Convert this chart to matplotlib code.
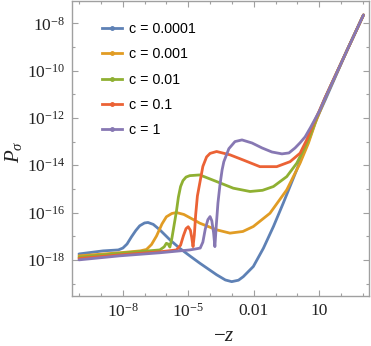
import matplotlib
matplotlib.use('Agg')
import matplotlib.pyplot as plt
from matplotlib.lines import Line2D
import numpy as np

plt.rcParams['mathtext.fontset'] = 'custom'
plt.rcParams['mathtext.rm'] = 'Liberation Serif'
plt.rcParams['mathtext.it'] = 'Liberation Serif:italic'

# data, as log10(-z) and log10(P_sigma)
labels = ['c = 0.0001', 'c = 0.001', 'c = 0.01', 'c = 0.1', 'c = 1']
colors = ['#5E81B5', '#E19C24', '#8FB032', '#EB6235', '#8778B3']

# shared straight tail at large -z
tail_x = [2.26, 3.02]
tail_y = [-9.16, -7.65]

blue_x = [-10.0, -8.9, -8.2, -7.99, -7.8, -7.6, -7.4, -7.22, -7.0, -6.84, -6.6, -6.3, -5.84, -5.39, -4.9,
          -4.47, -3.7, -3.3, -3.01, -2.7, -2.48, -2.02, -1.56, -1.1, -0.65, -0.19, 0.27, 0.58, 0.89, 1.27]
blue_y = [-17.75, -17.62, -17.58, -17.5, -17.33, -17.03, -16.76, -16.56, -16.44, -16.42, -16.5, -16.73,
          -17.15, -17.51, -17.85, -18.14, -18.63, -18.85, -18.92, -18.86, -18.71, -18.28, -17.51, -16.59,
          -15.6, -14.55, -13.49, -12.79, -12.01, -11.24]

orange_x = [-10.0, -8.14, -7.2, -6.91, -6.68, -6.45, -6.2, -6.0, -5.75, -5.54, -5.2, -4.8, -4.47, -3.7,
            -3.09, -2.5, -2.02, -1.26, -0.49, 0.12, 0.5, 0.8, 1.27]
orange_y = [-17.83, -17.7, -17.62, -17.56, -17.35, -16.99, -16.48, -16.18, -16.04, -16.0, -16.08, -16.28,
            -16.45, -16.73, -16.87, -16.8, -16.59, -16.03, -15.04, -13.91, -13.07, -12.25, -11.16]

green_x = [-10.0, -8.14, -6.3, -6.1, -6.0, -5.92, -5.84, -5.75, -5.65, -5.54, -5.45, -5.35, -5.24, -5.1,
           -4.93, -4.47, -3.7, -2.94, -2.17, -1.6, -1.1, -0.49, -0.03, 0.35, 0.58, 0.9, 1.27]
green_y = [-17.89, -17.72, -17.58, -17.45, -17.3, -17.33, -17.46, -17.1, -16.55, -15.95, -15.35, -14.9,
           -14.65, -14.5, -14.44, -14.41, -14.69, -14.97, -15.11, -15.06, -14.9, -14.48, -13.91, -13.21,
           -12.72, -11.95, -11.14]

red_x = [-10.0, -8.14, -6.3, -5.54, -5.35, -5.22, -5.1, -5.0, -4.9, -4.84, -4.78, -4.72, -4.66, -4.58,
         -4.47, -4.33, -4.16, -4.0, -3.7, -3.09, -2.48, -1.72, -0.95, -0.34, 0.12, 0.42, 0.7, 1.0, 1.27]
red_y = [-17.94, -17.79, -17.66, -17.58, -17.38, -16.98, -16.68, -16.6, -16.75, -17.05, -17.44, -16.95,
         -16.1, -15.3, -14.75, -14.05, -13.65, -13.5, -13.42, -13.56, -13.78, -14.06, -14.06, -13.85,
         -13.49, -12.93, -12.3, -11.7, -11.13]

purple_x = [-10.0, -8.14, -6.3, -4.93, -4.61, -4.45, -4.33, -4.22, -4.1, -4.0, -3.92, -3.84, -3.78,
            -3.72, -3.64, -3.55, -3.45, -3.37, -3.14, -2.86, -2.54, -2.08, -1.62, -1.17, -0.71, -0.39,
            -0.11, 0.12, 0.35, 0.6, 1.0, 1.27]
purple_y = [-18.0, -17.83, -17.7, -17.58, -17.53, -17.5, -17.25, -16.7, -16.3, -16.17, -16.35, -16.85,
            -17.44, -16.6, -15.6, -14.85, -14.2, -13.85, -13.3, -13.0, -12.93, -13.06, -13.27, -13.44,
            -13.52, -13.48, -13.27, -13.05, -12.8, -12.4, -11.72, -11.15]

series = [(blue_x, blue_y), (orange_x, orange_y), (green_x, green_y), (red_x, red_y), (purple_x, purple_y)]

fig = plt.figure(figsize=(3.71, 3.46), dpi=100)
ax = fig.add_axes([0.194, 0.145, 0.801, 0.852])

for (lx, ly), col in zip(series, colors):
    x = 10.0 ** np.array(lx + tail_x)
    y = 10.0 ** np.array(ly + tail_y)
    ax.plot(x, y, color=col, lw=2.0, solid_joinstyle='round', solid_capstyle='round')

ax.set_xscale('log')
ax.set_yscale('log')
ax.set_xlim(10 ** -10.32, 10 ** 3.28)
ax.set_ylim(10 ** -19.52, 10 ** -7.06)

frame = '#a0a0a0'
for s in ax.spines.values():
    s.set_color(frame)
    s.set_linewidth(1.0)

ax.set_xticks([1e-8, 1e-5, 1e-2, 1e1])
ax.set_xticklabels([r'$10^{-8}$', r'$10^{-5}$', '0.01', '10'])
ax.set_xticks([10.0 ** k for k in range(-10, 4)], minor=True)
ax.set_yticks([10.0 ** k for k in range(-18, -7, 2)])
ax.set_yticklabels([r'$10^{%d}$' % k for k in range(-18, -7, 2)])
ax.set_yticks([10.0 ** k for k in range(-19, -7, 2)], minor=True)
ax.xaxis.set_minor_formatter(plt.NullFormatter())
ax.yaxis.set_minor_formatter(plt.NullFormatter())
ax.tick_params(which='both', direction='in', top=True, right=True, color=frame, width=0.8,
               labelsize=12.5, labelcolor='#222222', pad=5)
ax.tick_params(which='major', length=4.5)
ax.tick_params(which='minor', length=2.5)
for t in ax.get_xticklabels() + ax.get_yticklabels():
    t.set_fontfamily('Liberation Serif')

ax.set_ylabel(r'$P_\sigma$', fontsize=15, color='#222222')
ax.yaxis.set_label_coords(-0.16, 0.49)
ax.set_xlabel(r'$-z$', fontsize=15, color='#222222')
ax.xaxis.set_label_coords(0.51, -0.1)

handles = [Line2D([0], [0], color=c, lw=2.0, marker='o', markersize=2.5) for c in colors]
ax.legend(handles, labels, loc='upper left', bbox_to_anchor=(0.10, 0.928), frameon=False,
          prop={'family': 'Liberation Sans', 'size': 10.3}, handlelength=1.4, handletextpad=0.5,
          labelspacing=0.78, borderaxespad=0, borderpad=0)

fig.savefig('out.png', dpi=100)
